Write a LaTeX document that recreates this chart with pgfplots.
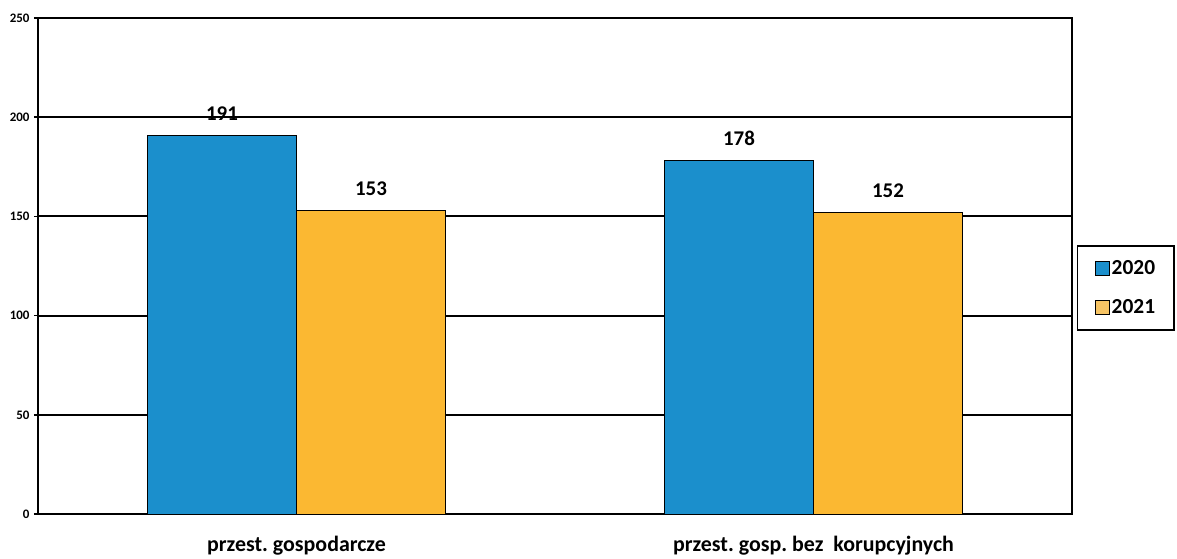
\documentclass[border=0pt]{standalone}
\usepackage{pgfplots}
\pgfplotsset{compat=1.18}
\usepackage{fontspec}
\setmainfont{Carlito}
\frenchspacing
\definecolor{barblue}{RGB}{27,143,204}
\definecolor{barorange}{RGB}{251,184,50}
\definecolor{legorange}{RGB}{247,196,100}
\begin{document}
\begin{tikzpicture}
\begin{axis}[
  scale only axis, width=1034bp, height=496bp,
  ybar=0pt, bar width=149bp,
  xmin=-0.5, xmax=1.5, ymin=0, ymax=250,
  ytick={0,50,...,250},
  xtick={0,1},
  xticklabels={przest. gospodarcze, przest. gosp. bez\ \ korupcyjnych},
  x tick style={draw=none},
  extra x ticks={-0.5,0.5,1.5}, extra x tick labels={},
  extra x tick style={grid=none, major tick length=7bp, tick align=outside,
     tick style={draw=black, line width=1.5bp}},
  xtick pos=bottom, ytick pos=left,
  ymajorgrids, grid style={black, line width=1.8bp},
  axis line style={black, line width=2.2bp},
  y tick style={black, line width=1.5bp}, ytick align=outside, major tick length=4bp,
  /pgf/number format/assume math mode=true,
  yticklabel style={font=\fontsize{13}{14}\selectfont\bfseries, xshift=-1bp},
  xticklabel style={font=\fontsize{22}{24}\selectfont\bfseries, yshift=-15bp},
  nodes near coords,
  every node near coord/.append style={font=\fontsize{21}{23}\selectfont\bfseries, yshift=11bp},
  legend cell align=left,
  legend style={at={(1.0048,0.542)}, anchor=north west, draw=black, line width=1.5bp,
    font=\fontsize{21.5}{23}\selectfont\bfseries, row sep=19bp, inner xsep=17bp, inner ysep=13bp},
]
\addplot[fill=barblue, draw=black, line width=1bp,
  legend image code/.code={\draw[fill=barblue, draw=black, line width=1bp] (0bp,-7bp) rectangle (14bp,7bp);}]
  coordinates {(0,191) (1,178)};
\addplot[fill=barorange, draw=black, line width=1bp,
  legend image code/.code={\draw[fill=legorange, draw=black, line width=1bp] (0bp,-7bp) rectangle (14bp,7bp);}]
  coordinates {(0,153) (1,152)};
\legend{2020,2021}
\end{axis}
\pgfresetboundingbox
\path[use as bounding box] ([xshift=-38bp,yshift=-44bp]current axis.south west) rectangle ([xshift=105bp,yshift=18bp]current axis.north east);
\end{tikzpicture}
\end{document}
